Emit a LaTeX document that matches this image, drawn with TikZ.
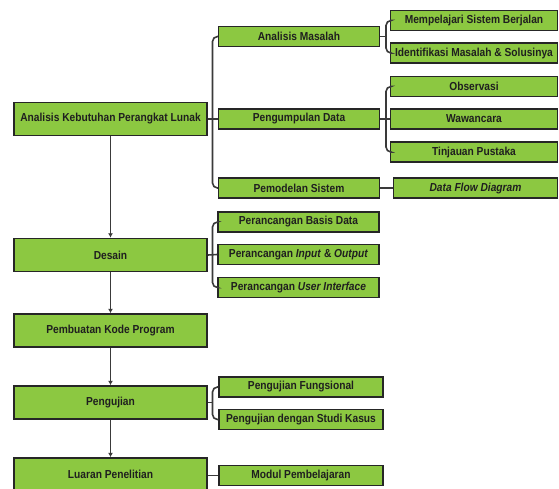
\documentclass[tikz,border=0pt]{standalone}
\usepackage{fontspec}
\setmainfont{Liberation Sans}[FakeStretch=0.88]
\usetikzlibrary{arrows.meta}
\definecolor{boxgreen}{HTML}{8CC841}
\definecolor{boxline}{HTML}{262626}
\definecolor{connline}{HTML}{3A3A3A}
\tikzset{
  gbox/.style={draw=boxline, line width=1.5pt, fill=boxgreen, inner sep=0pt,
    font=\fontsize{11.6}{12}\selectfont\bfseries, text=black!88},
  leftbox/.style={gbox, minimum width=193pt, minimum height=33pt},
  midbox/.style={gbox, minimum width=161pt, minimum height=20pt},
  rightbox/.style={gbox, minimum width=167pt, minimum height=20pt},
  conn/.style={draw=connline, line width=1.6pt},
  flow/.style={conn, -{Latex[length=4.5pt,width=5pt]}},
  brace/.style={conn, rounded corners=5pt}
}
\begin{document}
\begin{tikzpicture}[x=1pt,y=-1pt]
\useasboundingbox (0,0) rectangle (559,488);
% left column
\node[leftbox] (akpl) at (110.5,119) {Analisis Kebutuhan Perangkat Lunak};
\node[leftbox] (des) at (110.5,255) {Desain};
\node[leftbox] (pkp) at (110.5,330.5) {Pembuatan Kode Program};
\node[leftbox] (pgj) at (110.5,402.5) {Pengujian};
\node[leftbox] (lp) at (110.5,474.5) {Luaran Penelitian};
% middle column
\node[midbox] (am) at (299,36.5) {Analisis Masalah};
\node[midbox] (pd) at (299,119) {Pengumpulan Data};
\node[midbox] (ps) at (299,188) {Pemodelan Sistem};
\node[midbox] (pbd) at (298.5,222) {Perancangan Basis Data};
\node[midbox] (pio) at (298.5,254.5) {Perancangan \textit{Input} \& \textit{Output}};
\node[midbox] (pui) at (298.5,287.5) {Perancangan \textit{User Interface}};
\node[midbox, minimum width=164pt] (pf) at (301,387) {Pengujian Fungsional};
\node[midbox, minimum width=164pt] (psk) at (301,419.5) {Pengujian dengan Studi Kasus};
\node[midbox, minimum width=164pt] (mp) at (301,475.5) {Modul Pembelajaran};
% right column
\node[rightbox] (msb) at (474,20.5) {Mempelajari Sistem Berjalan};
\node[rightbox] (ims) at (474,53) {Identifikasi Masalah \& Solusinya};
\node[rightbox] (obs) at (474,86.5) {Observasi};
\node[rightbox] (waw) at (474,119) {Wawancara};
\node[rightbox] (tp) at (474,152) {Tinjauan Pustaka};
\node[rightbox, minimum width=164pt] (dfd) at (475.5,188) {\textit{Data Flow Diagram}};
% bus coordinates
\coordinate (b1) at (212.5,0);
\coordinate (b2) at (386,0);
% vertical flow
\draw[flow] (akpl) -- (des);
\draw[flow] (des) -- (pkp);
\draw[flow] (pkp) -- (pgj);
\draw[flow] (pgj) -- (lp);
% braces level 1
\draw[brace] (am.west) -| (b1 |- pd.west) |- (ps.west);
\draw[conn] (akpl.east) -- (pd.west);
\draw[brace] (pbd.west) -| (b1 |- pio.west) |- (pui.west);
\draw[conn] (des.east) -- (pio.west);
\draw[brace] (pf.west) -| (b1 |- pgj.east) |- (psk.west);
\draw[conn] (pgj.east) -- (pgj.east -| b1);
\draw[conn] (lp.east |- mp.west) -- (mp.west);
% braces level 2
\draw[brace] (msb.west) -| (b2 |- am.east) |- (ims.west);
\draw[conn] (am.east) -- (am.east -| b2);
\draw[brace] (obs.west) -| (b2 |- waw.west) |- (tp.west);
\draw[conn] (pd.east) -- (waw.west);
\draw[conn] (ps.east) -- (dfd.west);
\end{tikzpicture}
\end{document}
